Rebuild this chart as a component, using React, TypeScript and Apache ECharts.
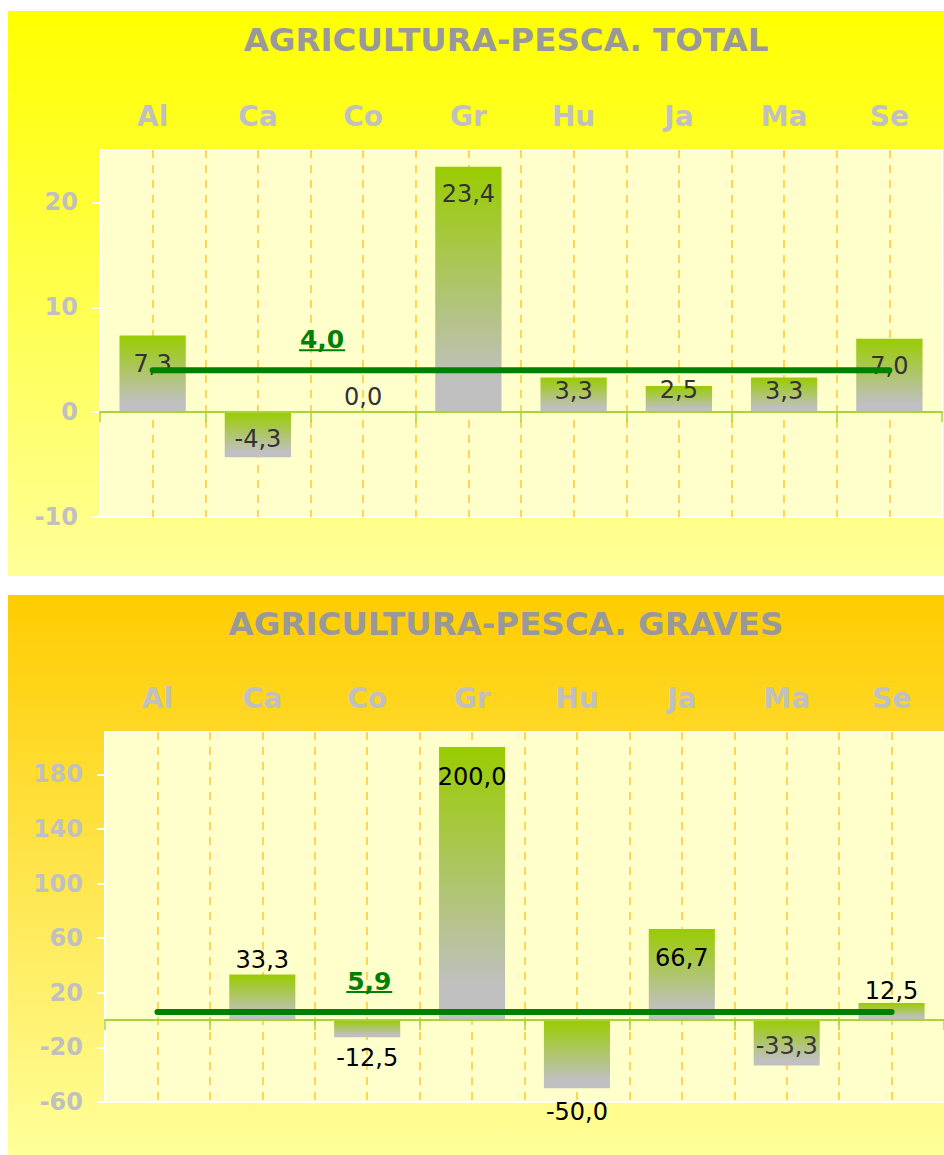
import React, { useEffect, useRef } from "react";
import * as echarts from "echarts";

// ---------- data ----------
const CATEGORIES = ["Al", "Ca", "Co", "Gr", "Hu", "Ja", "Ma", "Se"];

const TOTAL_VALUES = [7.3, -4.3, 0.0, 23.4, 3.3, 2.5, 3.3, 7.0];
const TOTAL_AVERAGE = [4.0, 4.0, 4.0, 4.0, 4.0, 4.0, 4.0, 4.0];
const TOTAL_TICKS = [-10, 0, 10, 20];

const GRAVES_VALUES = [null, 33.3, -12.5, 200.0, -50.0, 66.7, -33.3, 12.5];
const GRAVES_AVERAGE = [5.9, 5.9, 5.9, 5.9, 5.9, 5.9, 5.9, 5.9];
const GRAVES_TICKS = [-60, -20, 20, 60, 100, 140, 180];

// ---------- style config ----------
const FONT = '"DejaVu Sans", Verdana, sans-serif';

// [position, distance, color] per bar label
const TOTAL_LABELS: [string, number, string][] = [
  ["insideTop", 16, "#333333"],
  ["insideTop", 15, "#333333"],
  ["top", 3, "#333333"],
  ["insideTop", 15, "#333333"],
  ["insideBottom", 9, "#333333"],
  ["insideBottom", 10, "#333333"],
  ["insideBottom", 9, "#333333"],
  ["insideTop", 15, "#333333"],
];
const GRAVES_LABELS: [string, number, string][] = [
  ["top", 3, "#000000"],
  ["top", 3, "#000000"],
  ["bottom", 9, "#000000"],
  ["insideTop", 18, "#000000"],
  ["bottom", 12, "#000000"],
  ["insideTop", 17, "#000000"],
  ["insideBottom", 8, "#383838"],
  ["top", 0, "#000000"],
];

const fmt = (v: number) => v.toFixed(1).replace(".", ",");

interface ChartCfg {
  title: string;
  values: (number | null)[];
  average: number[];
  ticks: number[];
  yMin: number;
  yMax: number;
  yInterval: number;
  labels: [string, number, string][];
  avgLabelAt: number;
  grid: { left: number; top: number; width: number; height: number };
}

function buildOption(c: ChartCfg) {
  const barGradient = {
    type: "linear",
    x: 0,
    y: 0,
    x2: 0,
    y2: 1,
    colorStops: [
      { offset: 0, color: "#99CC00" },
      { offset: 0.88, color: "#C0C0C0" },
      { offset: 1, color: "#C0C0C0" },
    ],
  };
  const barData = c.values.map((v, i) => ({
    value: v,
    label: {
      position: c.labels[i][0],
      distance: c.labels[i][1],
      color: c.labels[i][2],
    },
  }));
  return {
    animation: false,
    title: {
      text: c.title,
      left: 498,
      top: 12,
      padding: 0,
      textAlign: "center",
      textVerticalAlign: "top",
      textStyle: {
        color: "#999999",
        fontWeight: "bold",
        fontSize: 32.5,
        fontFamily: FONT,
      },
    },
    grid: {
      left: c.grid.left,
      top: c.grid.top,
      width: c.grid.width,
      height: c.grid.height,
      show: true,
      backgroundColor: "#FFFFCC",
      borderColor: "#FFFFFF",
      borderWidth: 2,
      containLabel: false,
    },
    xAxis: [
      {
        type: "category",
        data: CATEGORIES,
        position: "top",
        axisLine: { show: false, onZero: false },
        axisTick: { show: false },
        splitLine: { show: false },
        axisLabel: {
          color: "#C0C0C0",
          fontWeight: "bold",
          fontSize: 28,
          fontFamily: FONT,
          margin: 20,
        },
      },
      {
        type: "category",
        data: CATEGORIES,
        position: "bottom",
        z: 4,
        axisLine: {
          show: true,
          onZero: true,
          onZeroAxisIndex: 0,
          lineStyle: { color: "#A8D43A", width: 2 },
        },
        axisTick: {
          show: true,
          length: 10,
          lineStyle: { color: "#A8D43A", width: 1.5 },
        },
        axisLabel: { show: false },
        splitLine: { show: false },
      },
      {
        type: "value",
        min: 0,
        max: 8,
        interval: 0.5,
        position: "bottom",
        axisLine: { show: false, onZero: false },
        axisTick: { show: false },
        axisLabel: { show: false },
        splitLine: {
          show: true,
          showMinLine: false,
          showMaxLine: false,
          lineStyle: { color: "#FFCC33", width: 1.6, type: [8, 7] },
        },
      },
    ],
    yAxis: [
      {
        type: "value",
        min: c.yMin,
        max: c.yMax,
        interval: c.yInterval,
        axisLine: { show: false },
        axisTick: {
          show: true,
          length: 8,
          customValues: c.ticks,
          lineStyle: { color: "#FFFFFF", width: 2 },
        },
        splitLine: { show: false },
        axisLabel: {
          color: "#C0C0C0",
          fontWeight: "bold",
          fontSize: 24,
          fontFamily: FONT,
          margin: 22,
          customValues: c.ticks,
          formatter: (v: number) => (c.ticks.indexOf(v) >= 0 ? String(v) : ""),
        },
      },
    ],
    series: [
      {
        type: "bar",
        xAxisIndex: 0,
        yAxisIndex: 0,
        data: barData,
        barWidth: "63%",
        z: 2,
        itemStyle: { color: barGradient },
        label: {
          show: true,
          fontSize: 24,
          fontFamily: FONT,
          formatter: (p: any) => (p.value == null ? "" : fmt(p.value)),
        },
        silent: true,
      },
      {
        type: "line",
        xAxisIndex: 0,
        yAxisIndex: 0,
        data: c.average,
        symbol: "none",
        z: 5,
        silent: true,
        lineStyle: { color: "#008000", width: 6, cap: "round" },
      },
      {
        type: "custom",
        xAxisIndex: 2,
        yAxisIndex: 0,
        z: 6,
        silent: true,
        data: [[c.avgLabelAt, c.average[0]]],
        renderItem: (_params: any, api: any) => {
          const p = api.coord([api.value(0), api.value(1)]);
          return {
            type: "group",
            children: [
              {
                type: "text",
                x: p[0],
                y: p[1] - 31,
                style: {
                  text: fmt(api.value(1)),
                  fill: "#008000",
                  font: `bold 25px ${FONT}`,
                  align: "center",
                  verticalAlign: "middle",
                },
              },
              {
                type: "line",
                shape: {
                  x1: p[0] - 23,
                  y1: p[1] - 20,
                  x2: p[0] + 23,
                  y2: p[1] - 20,
                },
                style: { stroke: "#008000", lineWidth: 2 },
              },
            ],
          };
        },
      },
    ],
  };
}

function Panel({ style, option }: { style: React.CSSProperties; option: any }) {
  const ref = useRef<HTMLDivElement>(null);
  useEffect(() => {
    if (!ref.current) return;
    const chart = echarts.init(ref.current, undefined, { renderer: "svg" });
    chart.setOption(option);
    return () => chart.dispose();
  }, [option]);
  return <div ref={ref} style={style} />;
}

const OPTION_TOTAL = buildOption({
  title: "AGRICULTURA-PESCA. TOTAL",
  values: TOTAL_VALUES,
  average: TOTAL_AVERAGE,
  ticks: TOTAL_TICKS,
  yMin: -10,
  yMax: 25,
  yInterval: 10,
  labels: TOTAL_LABELS,
  avgLabelAt: 2.11,
  grid: { left: 92, top: 139, width: 842, height: 367 },
});

const OPTION_GRAVES = buildOption({
  title: "AGRICULTURA-PESCA. GRAVES",
  values: GRAVES_VALUES,
  average: GRAVES_AVERAGE,
  ticks: GRAVES_TICKS,
  yMin: -60,
  yMax: 211,
  yInterval: 40,
  labels: GRAVES_LABELS,
  avgLabelAt: 2.52,
  grid: { left: 97, top: 137, width: 839, height: 370 },
});

export default function App() {
  return (
    <div>
      <Panel
        option={OPTION_TOTAL}
        style={{
          position: "absolute",
          left: 8,
          top: 11,
          width: 936,
          height: 565,
          background: "linear-gradient(to bottom, #FFFF00 0%, #FFFF99 100%)",
        }}
      />
      <Panel
        option={OPTION_GRAVES}
        style={{
          position: "absolute",
          left: 8,
          top: 595,
          width: 936,
          height: 560,
          background: "linear-gradient(to bottom, #FFCC00 0%, #FFFF99 100%)",
        }}
      />
    </div>
  );
}
